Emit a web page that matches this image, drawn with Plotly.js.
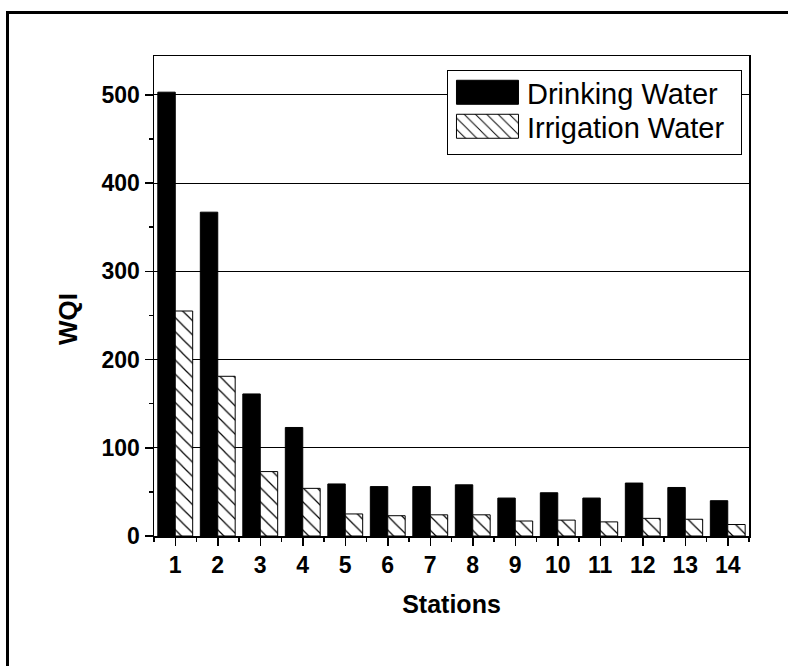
<!DOCTYPE html>
<html>
<head>
<meta charset="utf-8">
<script src="https://cdn.plot.ly/plotly-3.0.1.min.js"></script>
<style>
  html, body { margin: 0; padding: 0; width: 788px; height: 666px; overflow: hidden; background: #fff; }
  #chart { position: absolute; left: 0; top: 0; width: 788px; height: 666px; }
  #frame { position: absolute; left: 6px; top: 11px; width: 900px; height: 800px;
           border-left: 3px solid #000; border-top: 3px solid #000; pointer-events: none; }
</style>
</head>
<body>
<div id="chart"></div>
<div id="frame"></div>
<script>
const stations = [1, 2, 3, 4, 5, 6, 7, 8, 9, 10, 11, 12, 13, 14];
const stationLabels = ["1", "2", "3", "4", "5", "6", "7", "8", "9", "10", "11", "12", "13", "14"];
const drinkingWQI = [503, 367, 161, 123, 59, 56, 56, 58, 43, 49, 43, 60, 55, 40];
const irrigationWQI = [255, 181, 73, 54, 25, 23, 24, 24, 17, 18, 16, 20, 19, 13];
const seriesNames = ["Drinking Water", "Irrigation Water"];

const fam = "Arial, 'Liberation Sans', sans-serif";
const boldFont = {family: fam, size: 23, weight: "bold", color: "#000"};

const traces = [
  {
    type: "bar", name: seriesNames[0], x: stations, y: drinkingWQI,
    marker: {color: "#000", line: {color: "#000", width: 1}}
  },
  {
    type: "bar", name: seriesNames[1], x: stations, y: irrigationWQI,
    marker: {color: "#fff", line: {color: "#000", width: 1},
             pattern: {shape: "\\", size: 10, solidity: 0.12, fgcolor: "#000", bgcolor: "#fff"}}
  }
];

const layout = {
  width: 788, height: 666,
  margin: {l: 154, r: 39, t: 56, b: 130},
  paper_bgcolor: "#fff", plot_bgcolor: "#fff",
  barmode: "group", bargap: 0.18, bargroupgap: 0,
  showlegend: true,
  legend: {
    x: 0.4924, xanchor: "left", y: 0.971, yanchor: "top",
    bgcolor: "#fff", bordercolor: "#000", borderwidth: 1,
    font: {family: fam, size: 29, color: "#000"},
    itemwidth: 69, tracegroupgap: 0
  },
  xaxis: {
    range: [0.5, 14.5], tickmode: "array", tickvals: stations, ticktext: stationLabels,
    ticks: "outside", ticklen: 8, tickwidth: 1.5, tickcolor: "#000",
    minor: {ticks: "outside", ticklen: 4, tickwidth: 1.5, tickcolor: "#000", tick0: 0.5, dtick: 1, showgrid: false},
    showline: true, linecolor: "#000", linewidth: 1.5, mirror: true,
    showgrid: false, zeroline: false,
    tickfont: boldFont,
    title: {text: "Stations", font: {family: fam, size: 25, weight: "bold", color: "#000"}, standoff: 18}
  },
  yaxis: {
    range: [0, 544], dtick: 100, tick0: 0,
    ticks: "outside", ticklen: 8, tickwidth: 1.5, tickcolor: "#000",
    minor: {ticks: "outside", ticklen: 4, tickwidth: 1.5, tickcolor: "#000", dtick: 50, showgrid: false},
    showline: true, linecolor: "#000", linewidth: 1.5, mirror: true,
    showgrid: true, gridcolor: "#000", gridwidth: 1, zeroline: false,
    tickfont: boldFont
  },
  annotations: [{
    text: "WQI", textangle: -90, showarrow: false,
    xref: "paper", yref: "paper", x: 0, y: 0.452, xanchor: "center", yanchor: "middle", xshift: -86,
    font: {family: fam, size: 26, weight: "bold", color: "#000"}
  }]
};

Plotly.newPlot("chart", traces, layout, {displayModeBar: false, staticPlot: true}).then(function (gd) {
  // enlarge the legend swatches to match the original's wide rectangles
  gd.querySelectorAll(".legend .legendpoints path").forEach(function (p) {
    p.setAttribute("d", "M31,12H-31V-12H31Z");
  });
  // tighten legend rows and widen the box to match the original legend frame
  const items = gd.querySelectorAll(".legend .traces");
  let y0 = null;
  items.forEach(function (g, i) {
    const t = g.getAttribute("transform") || "";
    const m = t.match(/translate\(\s*([-\d.]+)[ ,]+([-\d.]+)\s*\)/);
    if (!m) return;
    const x = parseFloat(m[1]), y = parseFloat(m[2]);
    if (y0 === null) y0 = y;
    g.setAttribute("transform", "translate(" + x + "," + (y0 - 4 + i * 34) + ")");
  });
  const bg = gd.querySelector(".legend rect.bg");
  if (bg) {
    const w = parseFloat(bg.getAttribute("width"));
    bg.setAttribute("width", String(w + 11));
    bg.setAttribute("height", "84");
  }
});
</script>
</body>
</html>
